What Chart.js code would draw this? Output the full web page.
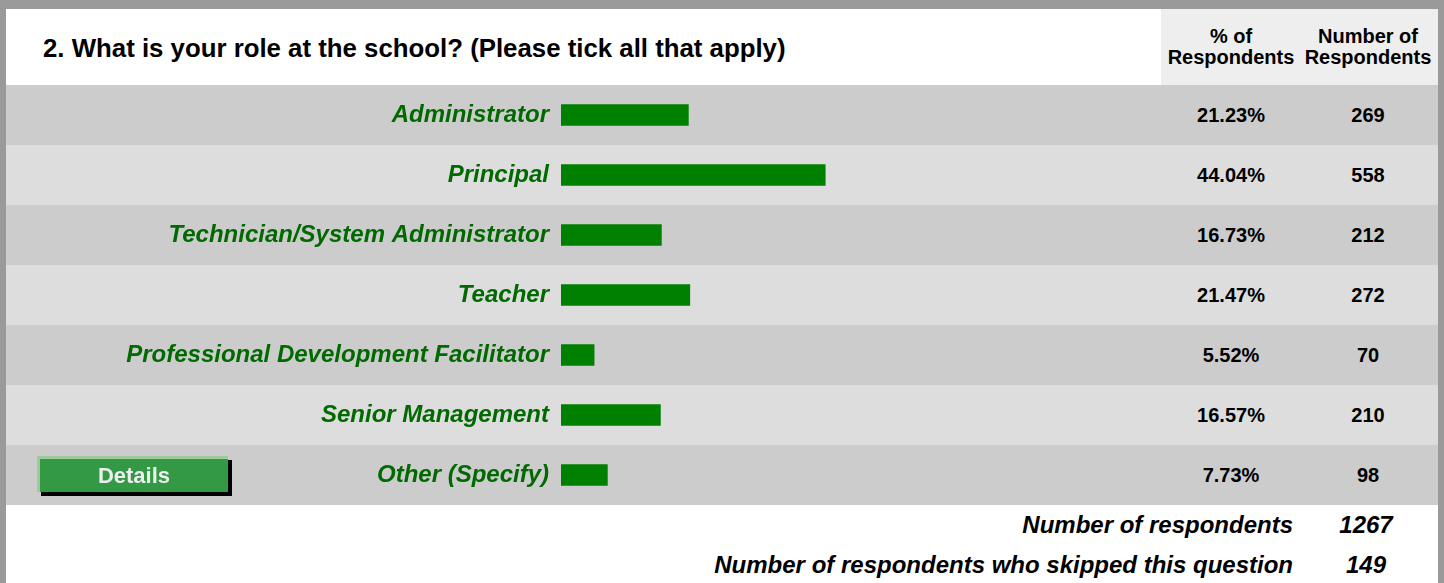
<!DOCTYPE html>
<html>
<head>
<meta charset="utf-8">
<script src="https://cdn.jsdelivr.net/npm/chart.js@4"></script>
<style>
  html, body { margin: 0; padding: 0; }
  body { width: 1444px; height: 583px; background: #9a9a9a; position: relative; overflow: hidden;
         font-family: "Liberation Sans", Arial, sans-serif; }
  .panel { position: absolute; left: 6px; top: 9px; width: 1432px; height: 574px; background: #fff; }
  .abs { position: absolute; }
  .title { left: 37px; top: 0; height: 76px; line-height: 78px; font-weight: bold; font-size: 25.8px; color: #000; }
  .colhead { top: 0; left: 1155px; width: 277px; height: 76px; background: #eeeeee; }
  .colhead div { position: absolute; top: 17px; text-align: center; font-weight: bold; font-size: 20px; line-height: 21px; }
  .row { left: 0; width: 1432px; height: 60px; }
  .cell { position: absolute; top: 0; height: 60px; line-height: 60px; text-align: center; font-weight: bold; font-size: 20px; }
  .foot { font-weight: bold; font-style: italic; font-size: 24px; }
  .btn { left: 31px; top: 447px; width: 188px; height: 33px; background: #339944;
         border-top: 3px solid #99cc99; border-left: 3px solid #99cc99;
         box-shadow: 4px 4px 0 #000; color: #eeeeee; font-weight: bold; font-size: 22px;
         text-align: center; line-height: 33px; }
  #chart { position: absolute; left: 1px; top: 76px; }
</style>
</head>
<body>
<div class="panel" id="panel">
  <div class="abs title">2. What is your role at the school? (Please tick all that apply)</div>
  <div class="abs colhead">
    <div style="left:-5px;width:150px;">% of<br>Respondents</div>
    <div style="left:132px;width:150px;">Number of<br>Respondents</div>
  </div>
  <div id="rows"></div>
  <canvas id="chart" width="1154" height="420"></canvas>
  <div class="abs btn">Details</div>
  <div class="abs foot" style="right:145px;top:502px;">Number of respondents</div>
  <div class="abs foot" style="left:1330px;width:60px;text-align:center;top:502px;">1267</div>
  <div class="abs foot" style="right:145px;top:542px;">Number of respondents who skipped this question</div>
  <div class="abs foot" style="left:1330px;width:60px;text-align:center;top:542px;">149</div>
</div>
<script>
const roles = ['Administrator', 'Principal', 'Technician/System Administrator', 'Teacher',
               'Professional Development Facilitator', 'Senior Management', 'Other (Specify)'];
const percentRespondents = [21.23, 44.04, 16.73, 21.47, 5.52, 16.57, 7.73];
const numberRespondents = [269, 558, 212, 272, 70, 210, 98];

// striped table rows with the two value columns
const rowsEl = document.getElementById('rows');
roles.forEach((r, i) => {
    const row = document.createElement('div');
    row.className = 'abs row';
    row.style.top = (76 + i * 60) + 'px';
    row.style.background = i % 2 === 0 ? '#cccccc' : '#dddddd';
    row.innerHTML =
        '<div class="cell" style="left:1150px;width:150px;">' + percentRespondents[i].toFixed(2) + '%</div>' +
        '<div class="cell" style="left:1287px;width:150px;">' + numberRespondents[i] + '</div>';
    rowsEl.appendChild(row);
});

const ctx = document.getElementById('chart').getContext('2d');
new Chart(ctx, {
    type: 'bar',
    data: {
        labels: roles,
        datasets: [{
            data: percentRespondents,
            backgroundColor: '#008000',
            barThickness: 21,
            borderWidth: 0
        }]
    },
    options: {
        indexAxis: 'y',
        responsive: false,
        animation: false,
        layout: { padding: 0 },
        plugins: { legend: { display: false }, tooltip: { enabled: false } },
        scales: {
            x: { min: 0, max: 100, display: false },
            y: {
                grid: { display: false, drawTicks: false },
                border: { display: false },
                ticks: {
                    color: '#006a00',
                    padding: 12,
                    font: { family: '"Liberation Sans", Arial, sans-serif', size: 24, weight: 'bold', style: 'italic' }
                },
                afterFit: scale => {
                    scale.width = 554;
                    scale.paddingTop = 0;
                    scale.paddingBottom = 0;
                }
            }
        }
    }
});
</script>
</body>
</html>
